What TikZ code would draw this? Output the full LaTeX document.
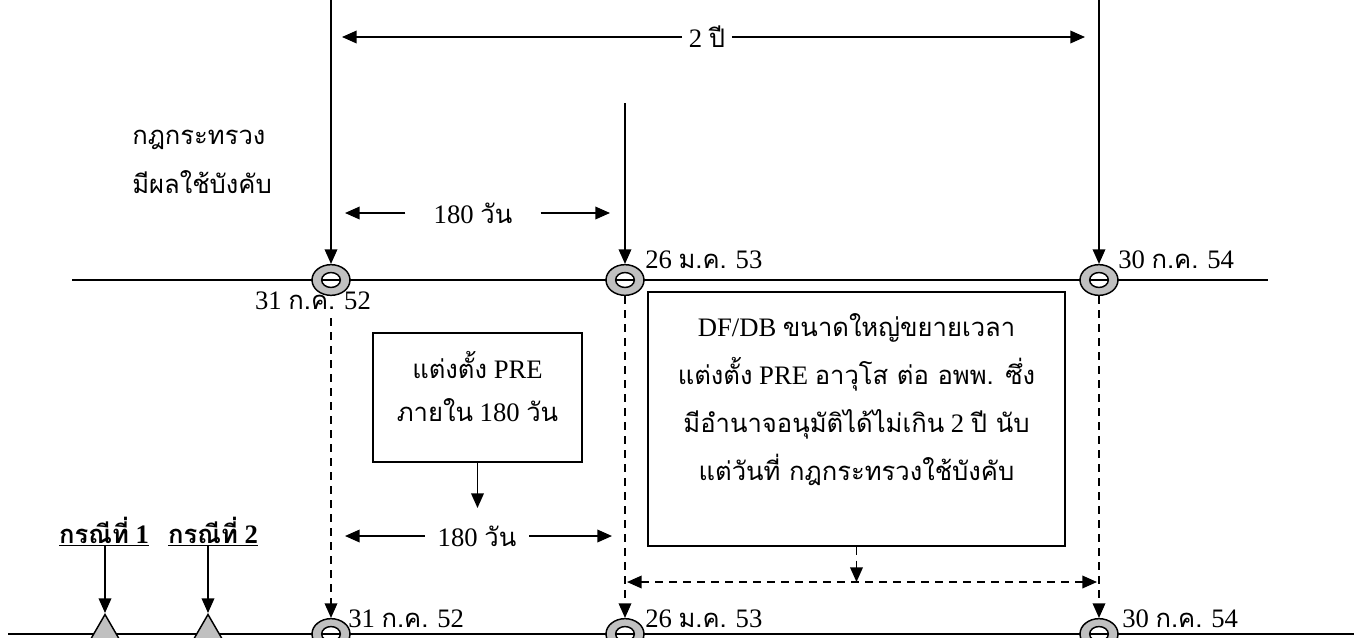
\documentclass[tikz,border=0pt]{standalone}
\usepackage{fontspec}
\setmainfont{Liberation Serif}
\newfontfamily\thaifont[Script=Thai,Scale=0.96]{Loma}
\newcommand\T[1]{{\thaifont #1}}
\usetikzlibrary{arrows.meta,shapes.geometric}
\definecolor{ringgray}{HTML}{C0C0C0}
\tikzset{
  ln/.style={line width=1.1pt},
  arr/.style={ln,-{Triangle[length=11pt,width=9.5pt]}},
  darr/.style={arr,dash pattern=on 6pt off 4.5pt},
  ddbl/.style={ln,dash pattern=on 6pt off 4.5pt,{Triangle[length=11pt,width=9.5pt]}-{Triangle[length=11pt,width=9.5pt]}},
  ring/.style={ellipse,draw,line width=1.1pt,fill=ringgray,minimum width=28.5pt,minimum height=23pt,inner sep=0pt,
    path picture={
      \draw[fill=white,line width=1.1pt] (path picture bounding box.center) ellipse [x radius=7pt,y radius=5.6pt];
      \draw[line width=1.1pt] ([xshift=-7pt]path picture bounding box.center) -- ([xshift=7pt]path picture bounding box.center);
    }},
  boxed/.style={draw,line width=1.3pt,inner sep=0pt},
  tri/.style={regular polygon,regular polygon sides=3,draw,fill=ringgray,line width=1.1pt,minimum size=37.5pt,inner sep=0pt,anchor=corner 1},
  lbl/.style={inner sep=0pt,anchor=base west},
  gap/.style={inner sep=0pt,minimum height=18pt},
}
\begin{document}
\begin{tikzpicture}[x=0.75pt,y=-0.75pt,font=\fontsize{20pt}{24pt}\selectfont]
\useasboundingbox (0,0) rectangle (1354,637);
% timelines
\coordinate (tl0) at (72,280);
\coordinate (tl1) at (1268,280);
\draw[ln] (tl0) -- (tl1);
\coordinate (bl0) at (8,634);
\coordinate (bl1) at (1354,634);
\draw[ln] (bl0) -- (bl1);
% rings
\node[ring] (c1) at (331,280) {};
\node[ring] (c2) at (625,280) {};
\node[ring] (c3) at (1099,280) {};
\node[ring] (b1) at (331,634) {};
\node[ring] (b2) at (625,634) {};
\node[ring] (b3) at (1099,634) {};
% top arrows
\coordinate (s1) at (331,0);
\coordinate (s2) at (625,103);
\coordinate (s3) at (1099,0);
\draw[arr] (s1) -- (c1.north);
\draw[arr] (s2) -- (c2.north);
\draw[arr] (s3) -- (c3.north);
% 2 years
\node[gap,minimum width=37pt] (y2) at (707,37) {2 \T{ปี}};
\coordinate (y2l) at (342,37);
\coordinate (y2r) at (1085,37);
\draw[arr] (y2.west) -- (y2l);
\draw[arr] (y2.east) -- (y2r);
% left label
\node[lbl] (law1) at (132,144) {\T{กฎกระทรวง}};
\node[lbl] (law2) at (132,193) {\T{มีผลใช้บังคับ}};
% 180 days top
\node[gap,minimum width=101pt] (d1) at (473,213) {180 \T{วัน}};
\coordinate (d1l) at (345,213);
\coordinate (d1r) at (610,213);
\draw[arr] (d1.west) -- (d1l);
\draw[arr] (d1.east) -- (d1r);
% top date labels
\node[lbl] (tc2) at (645,268) {26 \T{ม.ค.} 53};
\node[lbl] (tc3) at (1118,268) {30 \T{ก.ค.} 54};
\node[inner sep=0pt,anchor=base] (tc1) at (313,309) {31 \T{ก.ค.} 52};
% dashed verticals
\coordinate (c1d) at (331,318);
\draw[darr] (c1d) -- (b1.north);
\draw[darr] (c2.south) -- (b2.north);
\draw[darr] (c3.south) -- (b3.north);
% box 1
\node[boxed,minimum width=156.75pt,minimum height=96.75pt] (box1) at (477.5,397.5) {};
\node[lbl,anchor=base] (box1a) at (477.5,378) {\T{แต่งตั้ง} PRE};
\node[lbl,anchor=base] (box1b) at (477.5,421) {\T{ภายใน} 180 \T{วัน}};
\coordinate (box1e) at (477.5,508);
\draw[arr] (box1.south) -- (box1e);
% 180 days bottom
\node[gap,minimum width=78pt] (d2) at (477,536) {180 \T{วัน}};
\coordinate (d2l) at (345,536);
\coordinate (d2r) at (612,536);
\draw[arr] (d2.west) -- (d2l);
\draw[arr] (d2.east) -- (d2r);
% box 2
\node[boxed,minimum width=312.75pt,minimum height=190pt] (box2) at (856.5,419) {};
\node[lbl,anchor=base] (box2a) at (856.5,336) {DF/DB \T{ขนาดใหญ่ขยายเวลา}};
\node[lbl,anchor=base] (box2b) at (856.5,384) {\T{แต่งตั้ง} PRE \T{อาวุโส ต่อ อพพ. ซึ่ง}};
\node[lbl,anchor=base] (box2c) at (856.5,432) {\T{มีอำนาจอนุมัติได้ไม่เกิน} 2 \T{ปี นับ}};
\node[lbl,anchor=base] (box2d) at (856.5,480) {\T{แต่วันที่ กฎกระทรวงใช้บังคับ}};
\coordinate (dl) at (627,582);
\coordinate (dr) at (1097,582);
\draw[ddbl] (dl) -- (dr);
\draw[darr] (box2.south) -- (box2.south |- dl);
% cases
\node[lbl,anchor=base,font=\fontsize{20pt}{24pt}\selectfont\bfseries] (k1) at (104,543) {\underline{\T{กรณีที่} 1}};
\node[lbl,anchor=base,font=\fontsize{20pt}{24pt}\selectfont\bfseries] (k2) at (213,543) {\underline{\T{กรณีที่} 2}};
\node[tri] (tr1) at (105,613) {};
\node[tri] (tr2) at (208,613) {};
\draw[arr] (k1.south -| tr1.corner 1) -- (tr1.corner 1);
\draw[arr] (k2.south -| tr2.corner 1) -- (tr2.corner 1);
% bottom date labels
\node[lbl] (bc1) at (348,627) {31 \T{ก.ค.} 52};
\node[lbl] (bc2) at (645,627) {26 \T{ม.ค.} 53};
\node[lbl] (bc3) at (1122,627) {30 \T{ก.ค.} 54};
\end{tikzpicture}
\end{document}
